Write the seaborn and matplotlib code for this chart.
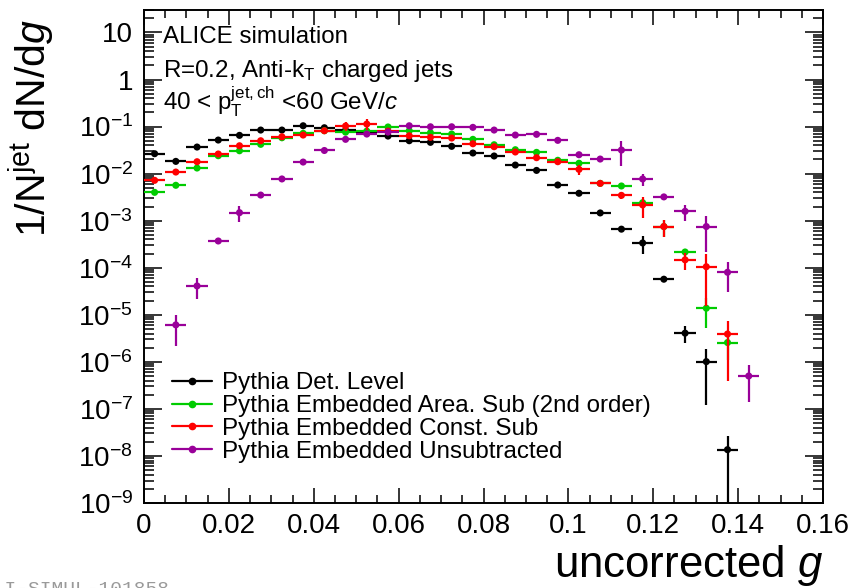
import numpy as np
import pandas as pd
import matplotlib
matplotlib.use("Agg")
import matplotlib.pyplot as plt
import seaborn as sns
from matplotlib.lines import Line2D
from matplotlib.ticker import FixedLocator, FixedFormatter, MultipleLocator, LogLocator, NullFormatter

nan = np.nan

# ---------------- data ----------------
g_centers = [0.0025, 0.0075, 0.0125, 0.0175, 0.0225, 0.0275, 0.0325, 0.0375, 0.0425, 0.0475,
             0.0525, 0.0575, 0.0625, 0.0675, 0.0725, 0.0775, 0.0825, 0.0875, 0.0925, 0.0975,
             0.1025, 0.1075, 0.1125, 0.1175, 0.1225, 0.1275, 0.1325, 0.1375, 0.1425]
bin_half_width = 0.0025

det_level = [0.0265, 0.0182, 0.0367, 0.0517, 0.065, 0.0843, 0.0843, 0.104, 0.0944, 0.083,
             0.074, 0.0628, 0.050, 0.0462, 0.038, 0.0274, 0.0237, 0.0152, 0.0117, 0.00573,
             0.00382, 0.00146, 0.00066, 0.000336, 5.7e-5, 4.07e-6, 1.01e-6, 1.36e-8, nan]
det_level_err = [0, 0, 0, 0, 0, 0, 0, 0, 0, 0,
                 0, 0, 0, 0, 0, 0, 0, 0, 0, 0,
                 0, 1.0e-4, 6e-5, 1.4e-4, 8e-6, 1.6e-6, 0.89e-6, 1.3e-8, nan]

area_sub = [0.0040, 0.00565, 0.01315, 0.0240, 0.0306, 0.0419, 0.0578, 0.0718, 0.0815, 0.076,
            0.080, 0.098, 0.0815, 0.0739, 0.0693, 0.0535, 0.0411, 0.0322, 0.0283, 0.0192,
            0.0166, 0.0062, 0.00546, 0.00241, 0.00075, 0.000216, 1.38e-5, 2.57e-6, nan]
area_sub_err = [0, 0, 0, 0, 0, 0, 0, 0, 0, 0,
                0, 0, 0, 0, 0, 0, 0, 0, 0, 0,
                0, 4e-4, 5e-4, 3e-4, 3e-4, 4e-5, 8.5e-6, 1.5e-6, nan]

const_sub = [0.0072, 0.0108, 0.0179, 0.0261, 0.0391, 0.050, 0.0607, 0.066, 0.0815, 0.1025,
             0.113, 0.080, 0.0638, 0.059, 0.057, 0.0431, 0.0373, 0.0288, 0.0218, 0.0179,
             0.0123, 0.0062, 0.00345, 0.00216, 0.00075, 0.000147, 0.000105, 3.9e-6, nan]
const_sub_err = [0, 0, 0, 0, 0, 0, 0, 0, 0, 0.021,
                 0.03, 0, 0, 0, 0, 0, 0, 0, 0, 0,
                 0.003, 4e-4, 6e-4, 1.0e-3, 2.9e-4, 5.6e-5, 9e-5, 3.5e-6, nan]

unsubtracted = [nan, 6.1e-6, 4.1e-5, 3.7e-4, 1.48e-3, 3.5e-3, 7.7e-3, 0.0176, 0.031, 0.0535,
                0.0693, 0.0764, 0.104, 0.099, 0.099, 0.0962, 0.0843, 0.066, 0.0683, 0.0509,
                0.0252, 0.0204, 0.0317, 0.0077, 0.0032, 0.00158, 0.00075, 8.0e-5, 5.0e-7]
unsubtracted_err = [nan, 3.9e-6, 1.9e-5, 4e-5, 5.3e-4, 3e-4, 0, 0, 0, 0,
                    0, 0, 0, 0, 0, 0, 0, 0, 0, 0,
                    0, 0, 0.0175, 2.3e-3, 3e-4, 5.8e-4, 5.3e-4, 5e-5, 3.6e-7]

series_names = ["Pythia Det. Level",
                "Pythia Embedded Area. Sub (2nd order)",
                "Pythia Embedded Const. Sub",
                "Pythia Embedded Unsubtracted"]
series_colors = ["#000000", "#00cc00", "#ff0000", "#990099"]

xtick_values = [0, 0.02, 0.04, 0.06, 0.08, 0.1, 0.12, 0.14, 0.16]
xtick_labels = ["0", "0.02", "0.04", "0.06", "0.08", "0.1", "0.12", "0.14", "0.16"]
ytick_values = [1e-9, 1e-8, 1e-7, 1e-6, 1e-5, 1e-4, 1e-3, 1e-2, 1e-1, 1, 10]
ytick_labels = [r"$10^{-9}$", r"$10^{-8}$", r"$10^{-7}$", r"$10^{-6}$", r"$10^{-5}$",
                r"$10^{-4}$", r"$10^{-3}$", r"$10^{-2}$", r"$10^{-1}$", "1", "10"]

# ---------------- style ----------------
sns.set_theme(style="ticks")
plt.rcParams.update({
    "font.family": ["Liberation Sans", "DejaVu Sans"],
    "mathtext.fontset": "custom",
    "mathtext.rm": "Liberation Sans",
    "mathtext.it": "Liberation Sans:italic",
    "mathtext.bf": "Liberation Sans:bold",
    "mathtext.sf": "Liberation Sans",
    "axes.linewidth": 1.4,
    "text.color": "black",
    "axes.labelcolor": "black",
    "xtick.color": "black",
    "ytick.color": "black",
})

frames = []
all_series = [(det_level, det_level_err), (area_sub, area_sub_err),
              (const_sub, const_sub_err), (unsubtracted, unsubtracted_err)]
for name, (vals, errs) in zip(series_names, all_series):
    frames.append(pd.DataFrame({"g": g_centers, "value": vals, "err": errs, "series": name}))
df = pd.concat(frames, ignore_index=True)

fig = plt.figure(figsize=(8.65, 5.88), dpi=100)
ax = fig.add_axes([144 / 865, 1 - 503 / 588, (823 - 144) / 865, (503 - 10) / 588])

for i, (name, color) in enumerate(zip(series_names, series_colors)):
    sub = df[df["series"] == name].dropna(subset=["value"])
    ax.errorbar(sub["g"], sub["value"], xerr=bin_half_width, yerr=sub["err"].fillna(0),
                fmt="none", ecolor=color, elinewidth=1.6, capsize=0, zorder=2 + 2 * i)
    sns.scatterplot(data=sub, x="g", y="value", color=color, s=26, edgecolor="none",
                    legend=False, ax=ax, zorder=3 + 2 * i)

ax.set_yscale("log")
ax.set_xlim(0, 0.16)
ax.set_ylim(1e-9, 30)

ax.xaxis.set_major_locator(FixedLocator(xtick_values))
ax.xaxis.set_major_formatter(FixedFormatter(xtick_labels))
ax.xaxis.set_minor_locator(MultipleLocator(0.005))
ax.yaxis.set_major_locator(FixedLocator(ytick_values))
ax.yaxis.set_major_formatter(FixedFormatter(ytick_labels))
ax.yaxis.set_minor_locator(LogLocator(base=10, subs=np.arange(2, 10), numticks=30))
ax.yaxis.set_minor_formatter(NullFormatter())

ax.tick_params(which="both", direction="in", top=True, right=True, width=1.1)
ax.tick_params(axis="x", which="major", length=11, pad=7, labelsize=20)
ax.tick_params(axis="x", which="minor", length=5.5)
ax.tick_params(axis="y", which="major", length=13, pad=8, labelsize=20)
ax.tick_params(axis="y", which="minor", length=7)
for s in ax.spines.values():
    s.set_visible(True)
    s.set_linewidth(1.4)
    s.set_color("black")

ax.set_xlabel("")
ax.set_ylabel("")
fig.text(823 / 865, 1 - 566 / 588, r"uncorrected $g$", ha="right", va="center", fontsize=31.5)
fig.text(32 / 865, 1 - 19 / 588, r"1/N$^{\mathrm{jet}}$ dN/d$g$", ha="center", va="top",
         rotation=90, fontsize=29.5)

# text block
fig.text(163 / 865, 1 - 42.7 / 588, "ALICE simulation", ha="left", va="baseline", fontsize=17.4)
fig.text(163 / 865, 1 - 76.7 / 588, r"R=0.2, Anti-k$_{\mathrm{T}}$ charged jets", ha="left",
         va="baseline", fontsize=17.4)
fig.text(163 / 865, 1 - 110 / 588, r"40 < p$_{\mathrm{T}}^{\mathrm{jet,ch}}$ <60 GeV/$c$",
         ha="left", va="baseline", fontsize=17.4)

# legend
handles = [Line2D([0], [0], color=c, lw=1.6, marker="o", markersize=4.5) for c in series_colors]
leg = ax.legend(handles, series_names, loc="upper left",
                bbox_to_anchor=(172 / 865, 1 - 372 / 588), bbox_transform=fig.transFigure,
                frameon=False, fontsize=17.4, handlelength=1.65, handletextpad=0.41,
                labelspacing=0.04, borderpad=0, borderaxespad=0)

# watermark, cut by the figure edge as in the original
fig.text(-19 / 865, 1 - 594 / 588, "ALI-SIMUL-101858", ha="left", va="baseline",
         fontsize=14, color="#9a9a9a", family="Liberation Mono")

fig.savefig("out.png", dpi=100)
